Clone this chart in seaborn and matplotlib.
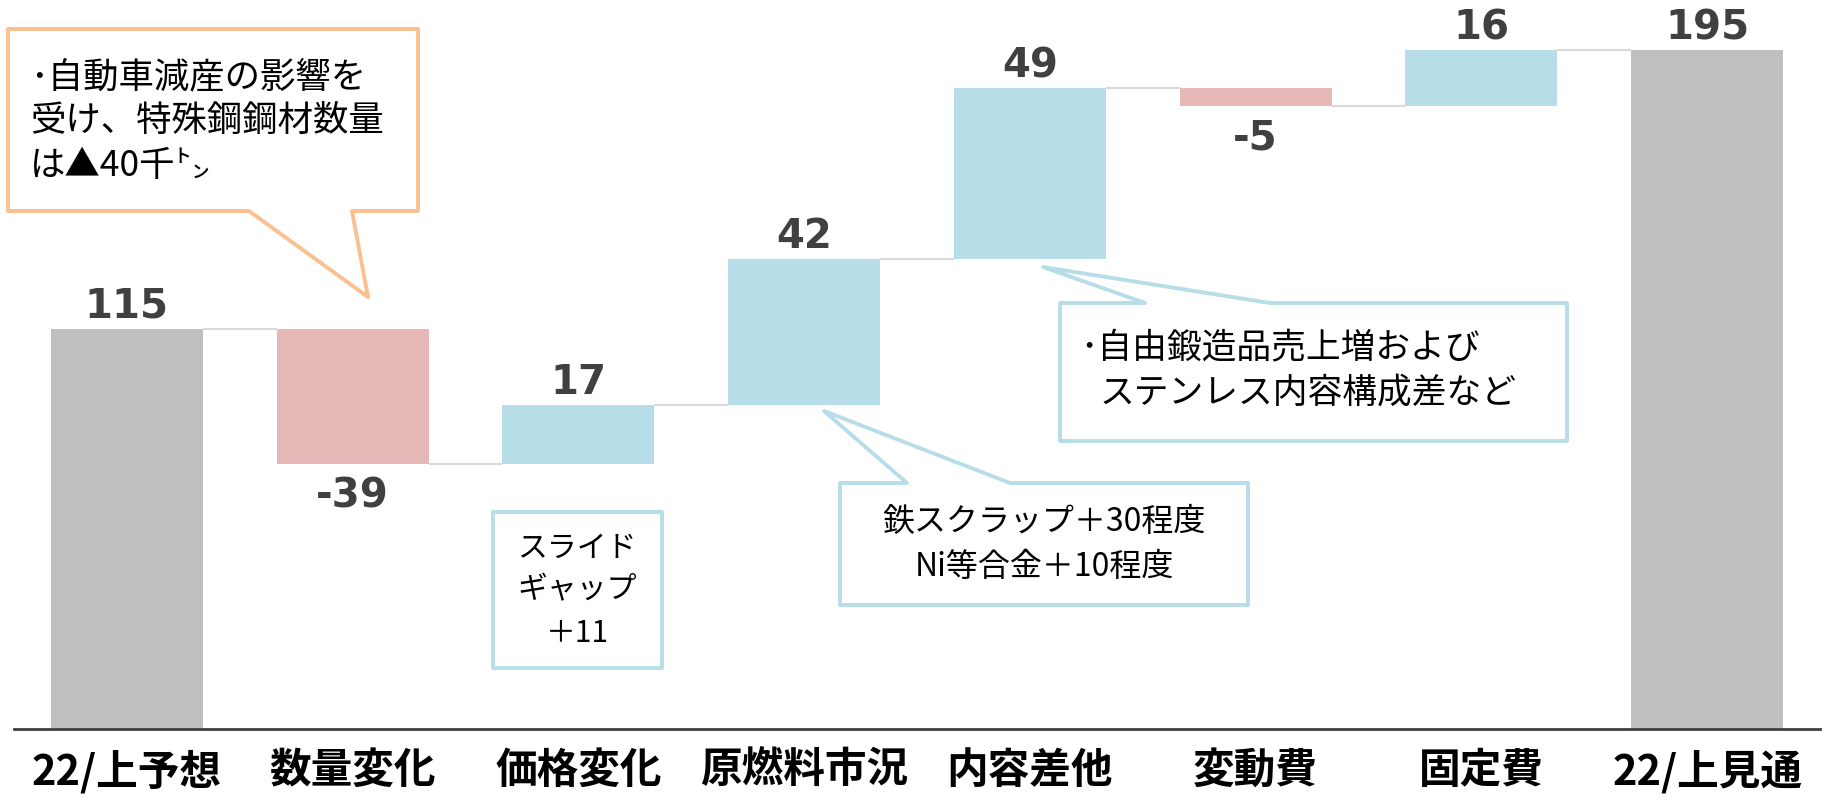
import numpy as np
import pandas as pd
import matplotlib
matplotlib.use("Agg")
import matplotlib.pyplot as plt
from matplotlib.patches import Polygon
import seaborn as sns

# data
categories = ["22/上予想", "数量変化", "価格変化", "原燃料市況", "内容差他", "変動費", "固定費", "22/上見通"]
changes = [115, -39, 17, 42, 49, -5, 16, 195]
kinds = ["total", "step", "step", "step", "step", "step", "step", "total"]
value_labels = ["115", "-39", "17", "42", "49", "-5", "16", "195"]

color_total = "#bfbfbf"
color_up = "#b7dee8"
color_down = "#e6b9b8"

# base of each bar and level after it
bottoms = []
levels = []
level = 0
for v, k in zip(changes, kinds):
    if k == "total":
        bottoms.append(0)
        level = v
    else:
        bottoms.append(level)
        level += v
    levels.append(level)

df = pd.DataFrame({"cat": categories, "height": changes, "bottom": bottoms})

sns.set_theme(style="white")
plt.rcParams["font.family"] = ["DejaVu Sans"]
jp = ["Noto Sans CJK JP", "DejaVu Sans"]

W, H = 1829, 800
fig = plt.figure(figsize=(W / 100, H / 100), dpi=100)
ax = fig.add_axes([14 / W, 71 / H, 1806 / W, 729 / H])

bar_w = 152 / 225.75
sns.barplot(data=df, x="cat", y="height", bottom=df["bottom"].values, width=bar_w,
            errorbar=None, color=color_total, saturation=1, linewidth=0, ax=ax)

colors = []
for v, k in zip(changes, kinds):
    if k == "total":
        colors.append(color_total)
    elif v >= 0:
        colors.append(color_up)
    else:
        colors.append(color_down)
for p, c in zip(ax.patches, colors):
    p.set_facecolor(c)
    p.set_edgecolor("none")

# connector lines
for i in range(len(categories) - 1):
    ax.hlines(levels[i], i + bar_w / 2, i + 1 - bar_w / 2, color="#d9d9d9", lw=1.5, zorder=0)

# value labels
for i, (v, k) in enumerate(zip(changes, kinds)):
    if k == "total" or v >= 0:
        ax.annotate(value_labels[i], (i, levels[i]), xytext=(0, 8), textcoords="offset points",
                    ha="center", va="baseline", fontsize=29, fontweight="bold", color="#404040")
    else:
        ax.annotate(value_labels[i], (i, levels[i]), xytext=(0, -9), textcoords="offset points",
                    ha="center", va="top", fontsize=29, fontweight="bold", color="#404040")

ax.set_xlim(-0.5, 7.5)
ax.set_ylim(0, 209.4)
ax.set_xlabel("")
ax.set_ylabel("")
ax.set_yticks([])
ax.set_xticks(range(len(categories)))
ax.set_xticklabels(categories, fontsize=30, fontweight="bold", family=jp, color="black")
ax.tick_params(axis="x", length=0, pad=15)
for s in ["top", "left", "right"]:
    ax.spines[s].set_visible(False)
ax.spines["bottom"].set_color("#404040")
ax.spines["bottom"].set_linewidth(2)


def fp(pts):
    return [(x / W, 1 - y / H) for x, y in pts]


def callout(pts, edge):
    fig.add_artist(Polygon(fp(pts), closed=True, transform=fig.transFigure,
                           facecolor="white", edgecolor=edge, lw=2.8, joinstyle="round"))


def line_text(x, y, s, size, ha="left"):
    fig.text(x / W, 1 - y / H, s, fontsize=size, family=jp, ha=ha, va="center", color="black")


orange = "#fac090"
blue = "#b7dee8"

callout([(8, 29), (418, 29), (418, 211), (352, 211), (368, 297), (249, 211), (8, 211)], orange)
line_text(30, 77, "･自動車減産の影響を", 25.5)
line_text(30, 121, "受け、特殊鋼鋼材数量", 25.5)
line_text(30, 166, "は▲40千㌧", 25.5)

callout([(493, 512), (662, 512), (662, 668), (493, 668)], blue)
line_text(577, 548, "スライド", 21.5, ha="center")
line_text(577, 590, "ギャップ", 21.5, ha="center")
line_text(577, 634, "＋11", 21.5, ha="center")

callout([(840, 483), (907, 483), (824, 411), (1010, 483), (1248, 483), (1248, 605), (840, 605)], blue)
line_text(1044, 522, "鉄スクラップ＋30程度", 23, ha="center")
line_text(1044, 567, "Ni等合金＋10程度", 23, ha="center")

callout([(1060, 303), (1145, 303), (1043, 267), (1270, 303), (1567, 303), (1567, 441), (1060, 441)], blue)
line_text(1080, 349, "･自由鍛造品売上増および", 25)
line_text(1100, 393, "ステンレス内容構成差など", 25)

fig.savefig("out.png", dpi=100)
